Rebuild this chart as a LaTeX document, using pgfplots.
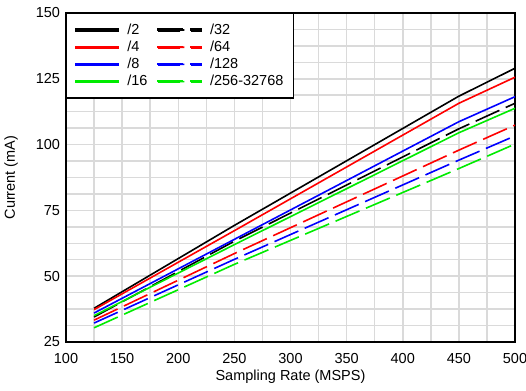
\documentclass[border=0pt]{standalone}
\usepackage{pgfplots}
\pgfplotsset{compat=1.18}
\usepackage{fontspec}
\setmainfont{Liberation Sans}
\definecolor{cgreen}{RGB}{0,235,0}
\definecolor{cred}{RGB}{255,0,0}
\definecolor{cblue}{RGB}{0,0,255}
\definecolor{gridgray}{RGB}{218,218,218}
\pgfplotsset{
  solidleg/.style={line width=1.6pt, legend image code/.code={\fill[##1] (0pt,-0.8pt) rectangle (43pt,0.8pt); \path (49pt,0pt);}},
  dashleg/.style={line width=1.6pt, dash pattern=on 26pt off 7pt, legend image code/.code={\fill[##1] (0pt,-0.8pt) rectangle (26pt,0.8pt) (33pt,-0.8pt) rectangle (43pt,0.8pt); \path (49pt,0pt);}},
}
\begin{document}
\fontsize{14.5}{17}\selectfont
\begin{tikzpicture}
\begin{axis}[
  scale only axis, width=449pt, height=329pt,
  xmin=100, xmax=500, ymin=25, ymax=150,
  xtick={100,150,...,500}, ytick={25,50,...,150},
  minor x tick num=1, minor y tick num=3,
  grid=both,
  major grid style={gridgray, line width=1.5pt},
  minor grid style={gridgray, line width=1.5pt},
  axis line style={line width=1.6pt},
  tick style={draw=none},
  /pgf/number format/assume math mode=true,
  xticklabel style={yshift=-6pt},
  yticklabel style={xshift=-1pt},
  xlabel={Sampling Rate (MSPS)},
  ylabel={Current (mA)},
  xlabel style={yshift=3pt},
  ylabel style={yshift=8pt},
  legend columns=2,
  legend cell align=left,
  legend style={at={(0,1)}, anchor=north west, draw=black, line width=1.4pt,
    inner xsep=8pt, inner ysep=8pt, row sep=0.5pt,
    /tikz/every even column/.append style={column sep=8pt}},
]
\addplot[black, solidleg] coordinates {(125,37.8) (250,69.3) (450,118.4) (500,129.0)};
\addlegendentry{/2}
\addplot[black, dashleg] coordinates {(125,34.5) (250,63.3) (450,106.0) (500,115.7)};
\addlegendentry{/32}
\addplot[cred, solidleg] coordinates {(125,37.3) (250,67.3) (450,115.7) (500,125.6)};
\addlegendentry{/4}
\addplot[cred, dashleg] coordinates {(125,33.3) (250,58.6) (450,97.9) (500,107.4)};
\addlegendentry{/64}
\addplot[cblue, solidleg] coordinates {(125,36.0) (250,64.0) (450,108.7) (500,118.2)};
\addlegendentry{/8}
\addplot[cblue, dashleg] coordinates {(125,32.2) (250,56.4) (450,94.1) (500,103.3)};
\addlegendentry{/128}
\addplot[cgreen, solidleg] coordinates {(125,35.0) (250,62.0) (450,104.5) (500,113.8)};
\addlegendentry{/16}
\addplot[cgreen, dashleg] coordinates {(125,30.4) (250,54.5) (450,90.9) (500,100.2)};
\addlegendentry{/256-32768}
\end{axis}
\pgfresetboundingbox
\path ([xshift=-66pt,yshift=-48pt]current axis.south west) rectangle ([xshift=11pt,yshift=13pt]current axis.north east);
\end{tikzpicture}
\end{document}
